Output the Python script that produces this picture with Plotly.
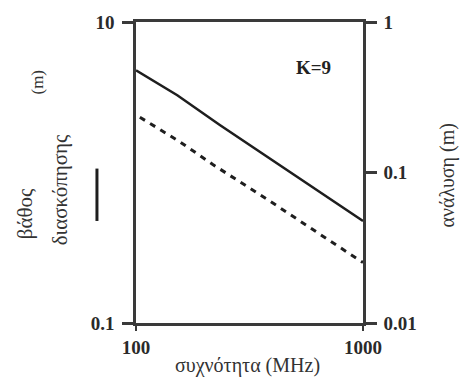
import plotly.graph_objects as go

# Data
freq_solid = [100, 152, 234, 378, 544, 859, 1000]
depth_m = [4.77, 3.26, 2.07, 1.27, 0.873, 0.553, 0.476]

freq_dash = [104, 156, 218, 389, 694, 1000]
resolution_m = [0.233, 0.160, 0.113, 0.0645, 0.0362, 0.0252]

x_ticks = [100, 1000]
x_ticklabels = ["100", "1000"]
left_ticks = [0.1, 10]
left_ticklabels = ["0.1", "10"]
right_ticks = [0.01, 0.1, 1]
right_ticklabels = ["0.01", "0.1", "1"]

FONT = "Liberation Serif"
INK = "#2a2a2a"
AX = "#3a3a3a"

fig = go.Figure()
fig.add_trace(go.Scatter(x=freq_solid, y=depth_m, mode="lines",
                         line=dict(color="#1e1e1e", width=2.5), yaxis="y",
                         showlegend=False))
fig.add_trace(go.Scatter(x=freq_dash, y=resolution_m, mode="lines",
                         line=dict(color="#1e1e1e", width=3, dash="6px,6px"),
                         yaxis="y2", showlegend=False))

fig.update_layout(
    width=467, height=385,
    margin=dict(l=136, r=104, t=19, b=62),
    paper_bgcolor="white", plot_bgcolor="white",
    xaxis=dict(type="log", range=[2, 3], tickvals=x_ticks, ticktext=x_ticklabels,
               showgrid=False, zeroline=False, showline=True, linecolor=AX,
               linewidth=2.5, mirror=True, ticks="outside", ticklen=5,
               tickwidth=2, tickcolor=AX, tickfont=dict(family=FONT, size=19, color=INK, weight="bold")),
    yaxis=dict(type="log", range=[-1, 1], tickvals=left_ticks, ticktext=left_ticklabels,
               showgrid=False, zeroline=False, showline=True, linecolor=AX,
               linewidth=2.5, ticks="outside", ticklen=11, tickwidth=2.5,
               tickcolor=AX, ticklabelstandoff=4,
               tickfont=dict(family=FONT, size=19, color=INK, weight="bold")),
    yaxis2=dict(type="log", range=[-2, 0], tickvals=right_ticks, ticktext=right_ticklabels,
                overlaying="y", side="right", showgrid=False, zeroline=False,
                showline=True, linecolor=AX, linewidth=2.5, ticks="outside",
                ticklen=11, tickwidth=2.5, tickcolor=AX, ticklabelstandoff=3,
                tickfont=dict(family=FONT, size=19, color=INK, weight="bold")),
)

ann_font = dict(family=FONT, size=20, color="#333")
annotations = [
    dict(text="συχνότητα (MHz)", x=0.493, y=-0.141, textangle=0, font=ann_font),
    dict(text="ανάλυση (m)", x=1.374, y=0.49, textangle=-90, font=ann_font),
    dict(text="βάθος", x=-0.489, y=0.365, textangle=-90, font=dict(family=FONT, size=21, color="#333")),
    dict(text="διασκόπησης", x=-0.335, y=0.444, textangle=-90, font=dict(family=FONT, size=21, color="#333")),
    dict(text="(m)", x=-0.436, y=0.799, textangle=-90, font=dict(family=FONT, size=17, color="#333")),
    dict(text="<b>K=9</b>", x=0.78, y=0.849, textangle=0, font=dict(family=FONT, size=19, color="#222")),
]
for a in annotations:
    fig.add_annotation(xref="paper", yref="paper", showarrow=False,
                       xanchor="center", yanchor="middle", **a)

# short solid legend line next to the left title
fig.add_shape(type="line", xref="paper", yref="paper", x0=-0.172, x1=-0.172,
              y0=0.339, y1=0.513, line=dict(color="#1e1e1e", width=3))

fig.write_html("out.html")
